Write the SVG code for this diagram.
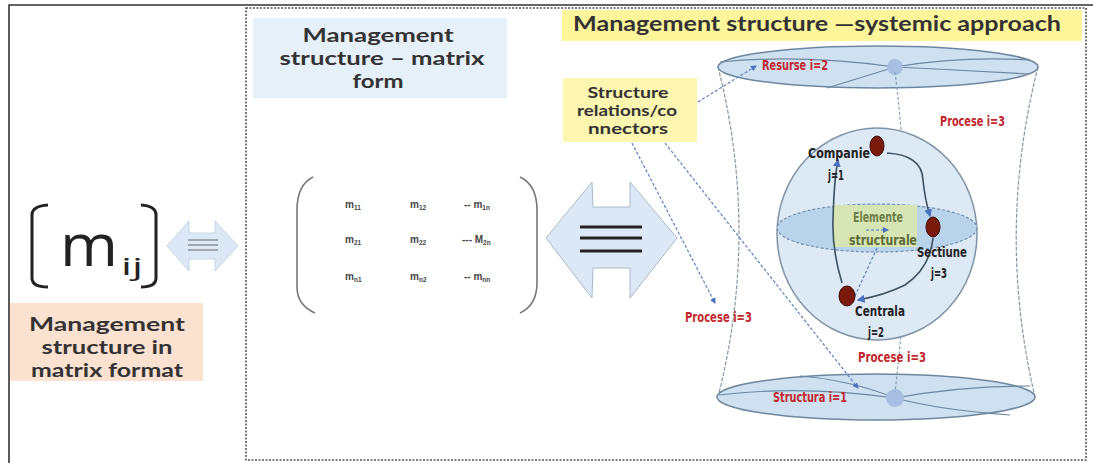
<svg xmlns="http://www.w3.org/2000/svg" width="1093" height="463" viewBox="0 0 1093 463">
<style>
.hd{font-family:Lato,"Open Sans","Liberation Sans",sans-serif;font-weight:bold;fill:#333;text-anchor:middle}
.lb{font-family:"Liberation Sans Narrow","DejaVu Sans Condensed","Liberation Sans",sans-serif;font-weight:bold;font-size:14px}
.red{fill:#c1272d}
.blk{fill:#222}
.mx{font-family:"Liberation Sans",sans-serif;font-weight:bold;font-size:10px;fill:#444}
.sb{font-size:6.5px}
.dash{fill:none;stroke:#5b80c0;stroke-width:1.2;stroke-dasharray:3 2}
.side{fill:none;stroke:#8a97a3;stroke-width:1.2;stroke-dasharray:4 1.5}
.orb{fill:none;stroke:#3d5060;stroke-width:1.6}
.node{fill:#7a1a0c;stroke:#3a0a05;stroke-width:1}
.disk{fill:#cfe0f1;stroke:#6e879f;stroke-width:1.5}
.disk-l{fill:none;stroke:#6e879f;stroke-width:1.2}
</style>
<defs>
<marker id="ah" viewBox="0 0 6 6" refX="5" refY="3" markerWidth="5" markerHeight="5" orient="auto">
<path d="M0,0 L6,3 L0,6 z" fill="#4a72c0"/>
</marker>
</defs>
<rect width="1093" height="463" fill="#fff"/>
<path d="M9,463 L9,5 L1093,5" fill="none" stroke="#333" stroke-width="1.6"/>
<rect x="246" y="8" width="840" height="452" fill="none" stroke="#555" stroke-width="1.6" stroke-dasharray="2 1.5"/>

<g id="mij">
<path d="M48,205 Q32,206 32,215 L32,278 Q32,287 48,287" fill="none" stroke="#222" stroke-width="3"/>
<path d="M141,205 Q156,206 156,215 L156,278 Q156,287 141,287" fill="none" stroke="#222" stroke-width="3"/>
<text x="60" y="266" font-family="'Open Sans','Liberation Sans',sans-serif" font-weight="500" font-size="58" fill="#222" textLength="58" lengthAdjust="spacingAndGlyphs">m</text>
<text x="121" y="275" font-family="'Open Sans','Liberation Sans',sans-serif" font-weight="500" font-size="23" fill="#222" textLength="22" lengthAdjust="spacingAndGlyphs">ij</text>
</g>

<g id="arrow-small">
<path d="M167,246 L189,221 L189,233 L215,233 L215,221 L238,246 L215,271 L215,259 L189,259 L189,271 Z" fill="#dce8f5" stroke="#c4d4e6" stroke-width="1"/>
<path d="M188,240 H218 M188,245 H218 M188,250 H218" stroke="#8a9099" stroke-width="1.5"/>
</g>

<g id="label-matrix-format">
<rect x="10" y="303" width="193" height="78" fill="#fbe1cf"/>
<text class="hd" x="107" y="331" font-size="19" textLength="156" lengthAdjust="spacingAndGlyphs">Management</text>
<text class="hd" x="107" y="354" font-size="19" textLength="131" lengthAdjust="spacingAndGlyphs">structure in</text>
<text class="hd" x="107" y="377" font-size="19" textLength="152" lengthAdjust="spacingAndGlyphs">matrix format</text>
</g>

<g id="label-matrix-form">
<rect x="253" y="18" width="254" height="80" fill="#e6f0f8"/>
<text class="hd" x="378" y="42" font-size="19" textLength="151" lengthAdjust="spacingAndGlyphs">Management</text>
<text class="hd" x="382" y="65" font-size="19" textLength="205" lengthAdjust="spacingAndGlyphs">structure – matrix</text>
<text class="hd" x="378" y="88" font-size="19" textLength="51" lengthAdjust="spacingAndGlyphs">form</text>
</g>

<g id="matrix">
<path d="M313,177 Q297,185 297,210 L297,287 Q297,305 315,313" fill="none" stroke="#777" stroke-width="1.6"/>
<path d="M520,177 Q537,185 537,210 L537,283 Q537,305 520,313" fill="none" stroke="#777" stroke-width="1.6"/>
<text class="mx" x="345" y="208">m<tspan class="sb" dy="2">11</tspan></text>
<text class="mx" x="410" y="208">m<tspan class="sb" dy="2">12</tspan></text>
<text class="mx" x="464" y="208">-- m<tspan class="sb" dy="2">1n</tspan></text>
<text class="mx" x="345" y="243">m<tspan class="sb" dy="2">21</tspan></text>
<text class="mx" x="410" y="243">m<tspan class="sb" dy="2">22</tspan></text>
<text class="mx" x="462" y="243">--- M<tspan class="sb" dy="2">2n</tspan></text>
<text class="mx" x="345" y="280">m<tspan class="sb" dy="2">n1</tspan></text>
<text class="mx" x="410" y="280">m<tspan class="sb" dy="2">n2</tspan></text>
<text class="mx" x="464" y="280">-- m<tspan class="sb" dy="2">nn</tspan></text>
</g>

<g id="arrow-big">
<path d="M546,238 L592,182 L593,207 L630,207 L630,182 L677,238 L630,298 L630,268 L593,268 L592,298 Z" fill="#dce8f5" stroke="#aab8c8" stroke-width="1"/>
<path d="M580,227 H642 M580,238 H642 M580,251 H642" stroke="#222" stroke-width="3"/>
</g>

<g id="title-systemic">
<rect x="562" y="10" width="520" height="31" fill="#fdf59a"/>
<text class="hd" x="817" y="31" font-size="20" textLength="488" lengthAdjust="spacingAndGlyphs">Management structure —systemic approach</text>
</g>

<g id="hourglass">
<path class="side" d="M718,67 Q760,232 718,397"/>
<path class="side" d="M1038,67 Q996,232 1035,397"/>
</g>

<g id="disk-top">
<ellipse class="disk" cx="878" cy="67" rx="160" ry="21"/>
<path class="disk-l" d="M720,62 Q800,54 895,67 M827,88 L895,67 M895,67 Q960,56 1030,60 M895,67 Q960,70 1028,74"/>
<circle cx="895" cy="67" r="8" fill="#a9bfe2"/>
</g>

<g id="disk-bottom">
<ellipse class="disk" cx="876" cy="397" rx="159" ry="23"/>
<path class="disk-l" d="M719,395 Q800,385 895,398 M800,376 Q850,380 895,398 M895,398 Q960,386 1030,386 M895,398 Q940,410 1010,415"/>
<circle cx="895" cy="398" r="9" fill="#a9bfe2"/>
</g>

<g id="axis">
<path d="M895,72 Q915,230 895,392" fill="none" stroke="#8aa0b5" stroke-width="1.2" stroke-dasharray="3 2"/>
</g>

<g id="sphere">
<ellipse cx="877" cy="234" rx="100" ry="106" fill="#dde9f5" stroke="#7f93a6" stroke-width="1.5"/>
<ellipse cx="877" cy="228" rx="100" ry="24" fill="#b9d3eb" stroke="#6f8fb0" stroke-width="1.2" stroke-dasharray="3 2"/>
</g>

<g id="elemente">
<rect x="833" y="205" width="84" height="42" fill="#d6e5b3"/>
<text class="lb" x="853" y="222" fill="#6f7d4a" font-weight="normal" textLength="50" lengthAdjust="spacingAndGlyphs">Elemente</text>
<text class="lb" x="849" y="245" fill="#5c6a3a" font-weight="normal" textLength="68" lengthAdjust="spacingAndGlyphs">structurale</text>
<path d="M866,230 L888,230" stroke="#4a72c0" stroke-width="1.2" stroke-dasharray="3 2" marker-end="url(#ah)"/>
</g>

<g id="connectors">
<path class="orb" d="M887,153 Q922,155 923,180 Q925,200 930,216" marker-end="url(#ah)"/>
<path class="orb" d="M933,238 Q930,268 905,285 Q885,295 858,300" marker-end="url(#ah)"/>
<path class="orb" d="M842,283 Q832,250 833,220 Q834,180 838,160" marker-end="url(#ah)"/>
<path class="dash" d="M877,248 L854,298"/>
<path class="dash" d="M698,102 L756,66" marker-end="url(#ah)"/>
<path class="dash" d="M632,143 L715,303" marker-end="url(#ah)"/>
<path class="dash" d="M665,143 L858,388" marker-end="url(#ah)"/>
</g>

<g id="node-companie">
<ellipse class="node" cx="877" cy="146" rx="7" ry="10"/>
<text class="lb blk" x="808" y="158" textLength="62" lengthAdjust="spacingAndGlyphs">Companie</text>
<text class="lb blk" x="828" y="180" textLength="16" lengthAdjust="spacingAndGlyphs">j=1</text>
</g>
<g id="node-sectiune">
<ellipse class="node" cx="933" cy="227" rx="7" ry="10"/>
<text class="lb blk" x="917" y="257" textLength="50" lengthAdjust="spacingAndGlyphs">Sectiune</text>
<text class="lb blk" x="931" y="278" textLength="16" lengthAdjust="spacingAndGlyphs">j=3</text>
</g>
<g id="node-centrala">
<ellipse class="node" cx="847" cy="296" rx="8" ry="10"/>
<text class="lb blk" x="855" y="316" textLength="50" lengthAdjust="spacingAndGlyphs">Centrala</text>
<text class="lb blk" x="868" y="337" textLength="16" lengthAdjust="spacingAndGlyphs">j=2</text>
</g>

<g id="labels-red">
<text class="lb red" x="762" y="70" textLength="66" lengthAdjust="spacingAndGlyphs">Resurse i=2</text>
<text class="lb red" x="940" y="126" textLength="65" lengthAdjust="spacingAndGlyphs">Procese i=3</text>
<text class="lb red" x="685" y="322" textLength="67" lengthAdjust="spacingAndGlyphs">Procese i=3</text>
<text class="lb red" x="858" y="362" textLength="68" lengthAdjust="spacingAndGlyphs">Procese i=3</text>
<text class="lb red" x="773" y="402" textLength="74" lengthAdjust="spacingAndGlyphs">Structura i=1</text>
</g>

<g id="label-relations">
<rect x="563" y="78" width="134" height="64" fill="#fdf6b0"/>
<text class="hd" x="628" y="98" font-size="15" fill="#222" textLength="81" lengthAdjust="spacingAndGlyphs">Structure</text>
<text class="hd" x="627" y="116" font-size="15" fill="#222" textLength="100" lengthAdjust="spacingAndGlyphs">relations/co</text>
<text class="hd" x="628" y="134" font-size="15" fill="#222" textLength="80" lengthAdjust="spacingAndGlyphs">nnectors</text>
</g>
</svg>
